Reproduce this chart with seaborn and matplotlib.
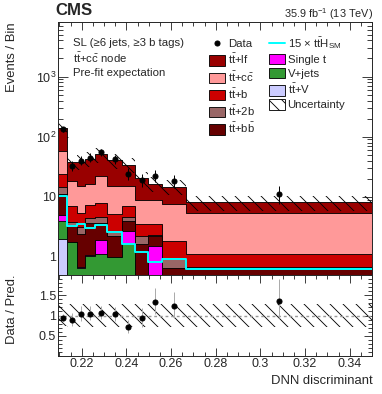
import matplotlib
matplotlib.use('Agg')
import matplotlib.pyplot as plt
from matplotlib.patches import Patch
from matplotlib.lines import Line2D
from matplotlib.ticker import FixedLocator, MultipleLocator, LogLocator, NullFormatter
import numpy as np
import seaborn as sns

# bin edges of the DNN output (variable width)
edges = [0.2095, 0.2133, 0.2180, 0.2215, 0.2260, 0.2315, 0.2379, 0.2439, 0.2498, 0.2561, 0.2665, 0.3500]

# pre-fit yields per bin
ttv     = [2.0, 0.3, 0.2, 0.3, 0.3, 0.3, 0.3, 0.05, 0.05, 0.05, 0.05]
vjets   = [1.9, 1.44, 0.46, 0.74, 0.8, 0.68, 1.33, 0.25, 0.25, 0.25, 0.25]
singlet = [1.0, 0.06, 0.02, 0.02, 0.82, 0.02, 1.08, 0.05, 1.2, 0.05, 0.05]
ttbb    = [6.1, 1.6, 1.71, 2.67, 1.81, 1.24, 1.26, 1.28, 0.74, 0.30, 0.27]
tt2b    = [3.3, 0.4, 0.73, 0.77, 0.8, 0.47, 0.56, 0.61, 0.06, 0.27, 0.05]
ttb     = [9.7, 3.1, 2.18, 2.8, 3.27, 2.42, 2.37, 1.26, 1.2, 0.93, 0.44]
ttcc    = [34.0, 11.1, 9.7, 8.9, 14.0, 10.1, 8.3, 5.3, 5.3, 5.65, 4.19]
ttlf    = [84.0, 19.3, 23.5, 26.8, 29.7, 25.6, 18.8, 11.7, 7.7, 7.2, 2.8]
tth15   = [10.5, 3.3, 3.5, 3.0, 3.4, 2.6, 1.65, 1.22, 0.81, 0.92, 0.64]

data    = [133, 33, 40, 45, 55, 42, 24, 19, 22, 18, 11]
data_lo = [11.5, 5.7, 6.3, 6.7, 7.4, 6.5, 4.9, 4.3, 4.7, 4.2, 3.3]
data_hi = [12.6, 6.8, 7.4, 7.8, 8.5, 7.5, 6.0, 5.4, 5.7, 5.3, 4.4]

# relative uncertainty band
unc_lo = [0.74, 0.72, 0.72, 0.72, 0.72, 0.72, 0.72, 0.72, 0.72, 0.72, 0.72]
unc_hi = [1.26, 1.28, 1.28, 1.28, 1.28, 1.28, 1.28, 1.28, 1.28, 1.28, 1.28]

procs = [
    (ttv,     '#ccccff', r'$\mathrm{t\bar{t}}$+V'),
    (vjets,   '#339933', 'V+jets'),
    (singlet, '#ff00ff', 'Single t'),
    (ttbb,    '#660000', r'$\mathrm{t\bar{t}}$+$\mathrm{b\bar{b}}$'),
    (tt2b,    '#996666', r'$\mathrm{t\bar{t}}$+2b'),
    (ttb,     '#cc0000', r'$\mathrm{t\bar{t}}$+b'),
    (ttcc,    '#ff9999', r'$\mathrm{t\bar{t}}$+$\mathrm{c\bar{c}}$'),
    (ttlf,    '#990000', r'$\mathrm{t\bar{t}}$+lf'),
]

sns.set_style('ticks')
plt.rcParams['font.family'] = ['Liberation Sans', 'DejaVu Sans']
plt.rcParams['mathtext.fontset'] = 'custom'
plt.rcParams['mathtext.rm'] = 'Liberation Sans'
plt.rcParams['mathtext.it'] = 'Liberation Sans:italic'
plt.rcParams['mathtext.bf'] = 'Liberation Sans:bold'
plt.rcParams['hatch.linewidth'] = 0.8
plt.rcParams['axes.linewidth'] = 0.9

HATCH = '\\\\'

W, H, DPI = 382, 394, 78
fig = plt.figure(figsize=(W / DPI, H / DPI), dpi=DPI)
L, R = 58.3, 372.0
ax = fig.add_axes([L / W, 1 - 275 / H, (R - L) / W, (275 - 22.3) / H])
rax = fig.add_axes([L / W, 1 - 356 / H, (R - L) / W, 81 / H], sharex=ax)

edges_a = np.array(edges)
centers = 0.5 * (edges_a[1:] + edges_a[:-1])
cum = np.cumsum([np.array(p[0]) for p in procs], axis=0)
total = cum[-1]

# stack: draw cumulative histograms from the top down
for i in range(len(procs) - 1, -1, -1):
    sns.histplot(x=centers, weights=cum[i], bins=edges, element='step', fill=True,
                 color=procs[i][1], alpha=1, edgecolor='black', linewidth=0.8, ax=ax)

sns.histplot(x=centers, weights=tth15, bins=edges, element='step', fill=False,
             color='#00ffff', linewidth=1.8, ax=ax)

band_lo = np.append(total * np.array(unc_lo), total[-1] * unc_lo[-1])
band_hi = np.append(total * np.array(unc_hi), total[-1] * unc_hi[-1])
ax.fill_between(edges, band_lo, band_hi, step='post', facecolor='none',
                edgecolor='black', hatch=HATCH, linewidth=0, zorder=5)

ax.errorbar(centers, data, yerr=[data_lo, data_hi], fmt='o', color='black',
            markersize=4.6, elinewidth=0.9, capsize=0, zorder=6)

ax.set_yscale('log')
ax.set_xlim(edges[0], edges[-1])
ax.set_ylim(0.5, 8000)
ax.yaxis.set_major_locator(FixedLocator([1, 10, 100, 1000]))
ax.set_yticklabels(['1', '10', '$10^{2}$', '$10^{3}$'])
ax.yaxis.set_minor_locator(LogLocator(base=10, subs=np.arange(2, 10), numticks=20))
ax.yaxis.set_minor_formatter(NullFormatter())
ax.set_ylabel('Events / Bin', loc='top', fontsize=12)
ax.yaxis.set_label_coords(-0.128, 1.0)
ax.set_xlabel('')
plt.setp(ax.get_xticklabels(), visible=False)

# ratio panel
ratio = np.array(data) / total
rax.fill_between(edges, np.append(unc_lo, unc_lo[-1]), np.append(unc_hi, unc_hi[-1]),
                 step='post', facecolor='none', edgecolor='black', hatch=HATCH, linewidth=0)
rax.axhline(1.0, color='#999999', linestyle=(0, (2, 2)), linewidth=1.3)
rax.errorbar(centers, ratio, yerr=[np.array(data_lo) / total, np.array(data_hi) / total],
             fmt='o', color='black', ecolor='#aaaaaa', markersize=4.6, elinewidth=0.9,
             capsize=0, zorder=6)
rax.set_ylim(0, 2)
rax.yaxis.set_major_locator(FixedLocator([0.5, 1.0, 1.5]))
rax.set_yticklabels(['0.5', '1', '1.5'])
rax.yaxis.set_minor_locator(MultipleLocator(0.1))
xt = [0.22, 0.24, 0.26, 0.28, 0.30, 0.32, 0.34]
rax.xaxis.set_major_locator(FixedLocator(xt))
rax.set_xticklabels(['0.22', '0.24', '0.26', '0.28', '0.3', '0.32', '0.34'])
rax.xaxis.set_minor_locator(MultipleLocator(0.005))
rax.set_ylabel('Data / Pred.', loc='top', fontsize=12)
rax.yaxis.set_label_coords(-0.128, 1.0)
rax.set_xlabel('DNN discriminant', loc='right', fontsize=12)
rax.xaxis.set_label_coords(1.003, -0.24)

for a in (ax, rax):
    a.tick_params(which='both', direction='in', top=True, right=True, labelsize=11.5, pad=2)
    a.tick_params(which='major', length=7.5, width=0.8)
    a.tick_params(which='minor', length=3.8, width=0.8)
    for s in a.spines.values():
        s.set_linewidth(0.9)
        s.set_zorder(10)
ax.tick_params(axis='y', which='major', length=9)
ax.tick_params(axis='y', which='minor', length=4.5)

def fx(x):
    return x / W

def fy(y):
    return 1 - y / H

fig.text(fx(55), fy(15), 'CMS', fontsize=15.5, fontweight='bold', ha='left', va='baseline')
fig.text(fx(373), fy(17.5), r'35.9 fb$^{-1}$ (13 TeV)', fontsize=10, ha='right', va='baseline')
fig.text(fx(73), fy(43.3), 'SL (≥6 jets, ≥3 b tags)', fontsize=10.5, ha='left', va='center')
fig.text(fx(73), fy(58.3), r'$\mathrm{t\bar{t}}$+$\mathrm{c\bar{c}}$ node', fontsize=10.5, ha='left', va='center')
fig.text(fx(73), fy(72.7), 'Pre-fit expectation', fontsize=10.5, ha='left', va='center')

# legend: column one then column two
handles = [Line2D([], [], marker='o', color='black', linestyle='none', markersize=4.6)]
labels = ['Data']
for i in [7, 6, 5, 4, 3]:
    handles.append(Patch(facecolor=procs[i][1], edgecolor='black', linewidth=0.8))
    labels.append(procs[i][2])
handles.append(Line2D([], [], color='#00ffff', linewidth=1.8))
labels.append(r'15 $\times$ $\mathrm{t\bar{t}H_{SM}}$')
for i in [2, 1, 0]:
    handles.append(Patch(facecolor=procs[i][1], edgecolor='black', linewidth=0.8))
    labels.append(procs[i][2])
handles.append(Patch(facecolor='white', edgecolor='black', hatch=HATCH, linewidth=0.8))
labels.append('Uncertainty')

ax.legend(handles, labels, ncol=2, loc='upper left', bbox_to_anchor=(fx(209.3), fy(35.0)),
          bbox_transform=fig.transFigure, frameon=False, fontsize=10.5, borderpad=0,
          borderaxespad=0, handlelength=1.4, handleheight=1.0, handletextpad=0.25,
          labelspacing=0.27, columnspacing=1.2)

fig.savefig('out.png', dpi=DPI)
